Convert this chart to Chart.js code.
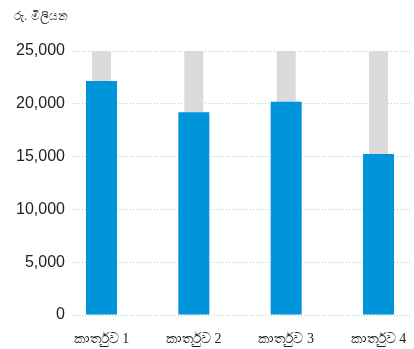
<!DOCTYPE html>
<html>
<head>
<meta charset="utf-8">
<script src="https://cdn.jsdelivr.net/npm/chart.js@4.4.1/dist/chart.umd.min.js"></script>
<style>
html,body{margin:0;padding:0;background:#fff;}
#wrap{width:414px;height:349px;position:relative;}
</style>
</head>
<body>
<div id="wrap"><canvas id="c" width="414" height="349"></canvas></div>
<script>
const categories = ["කාර්තුව 1", "කාර්තුව 2", "කාර්තුව 3", "කාර්තුව 4"];
const values = [22150, 19200, 20200, 15250];
const backgroundMax = [25000, 25000, 25000, 25000];
const yTicks = [0, 5000, 10000, 15000, 20000, 25000];
const unitLabel = "රු. මිලියන";

const unitPlugin = {
  id: 'unitLabel',
  afterDraw(chart) {
    const ctx = chart.ctx;
    ctx.save();
    ctx.fillStyle = '#333';
    ctx.font = '12px "Liberation Sans", Arial, sans-serif';
    ctx.textBaseline = 'middle';
    ctx.textAlign = 'left';
    ctx.fillText(unitLabel, 14, 17);
    ctx.restore();
  }
};

new Chart(document.getElementById('c'), {
  type: 'bar',
  data: {
    datasets: [
      {
        data: values.map((v, i) => ({x: i, y: v})),
        backgroundColor: '#0095da',
        barPercentage: 0.336,
        categoryPercentage: 1,
        grouped: false,
        order: 0
      },
      {
        data: backgroundMax.map((v, i) => ({x: i, y: v})),
        backgroundColor: '#dbdbdd',
        barPercentage: 0.206,
        categoryPercentage: 1,
        grouped: false,
        order: 1
      }
    ]
  },
  plugins: [unitPlugin],
  options: {
    responsive: false,
    animation: false,
    devicePixelRatio: 1,
    layout: { padding: { top: 51, right: 2, left: 0, bottom: 0 } },
    plugins: { legend: { display: false }, tooltip: { enabled: false }, title: { display: false } },
    scales: {
      x: {
        type: 'linear',
        offset: false,
        min: -0.3087,
        max: 3.3628,
        grid: { display: true, drawOnChartArea: false, drawTicks: true, tickLength: 16, color: 'rgba(0,0,0,0)', tickColor: 'rgba(0,0,0,0)', offset: false },
        border: { display: false },
        afterBuildTicks(scale) { scale.ticks = categories.map((_, i) => ({ value: i })); },
        afterFit(scale) { scale.height = 34; },
        ticks: {
          autoSkip: false,
          maxRotation: 0,
          padding: 0,
          color: '#222',
          font: { family: '"Liberation Serif", serif', size: 14 },
          callback: (v) => categories[v] ?? ''
        }
      },
      y: {
        min: 0,
        max: 25000,
        afterBuildTicks(scale) { scale.ticks = yTicks.map(v => ({ value: v })); },
        afterFit(scale) { scale.width = 73; },
        grid: { color: '#9fd9dc', lineWidth: 1, drawTicks: false, borderDash: [1, 2] },
        border: { display: false, dash: [1, 2] },
        ticks: {
          padding: 8,
          color: '#222',
          font: { family: '"Liberation Sans", Arial, sans-serif', size: 16 },
          callback: (v) => v.toLocaleString('en-US')
        }
      }
    }
  }
});
</script>
</body>
</html>
